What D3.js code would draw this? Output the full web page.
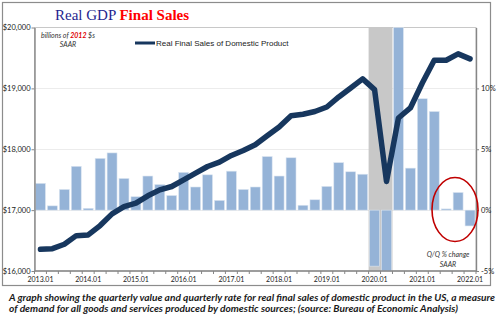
<!DOCTYPE html>
<html>
<head>
<meta charset="utf-8">
<script src="https://cdn.jsdelivr.net/npm/d3@7"></script>
<style>
  body { margin: 0; background: #fff; }
  svg { display: block; }
  text { font-family: Lato, "Liberation Sans", sans-serif; }
</style>
</head>
<body>
<svg id="chart" width="500" height="326"></svg>
<script>
// quarterly categories, 2013 Q1 .. 2022 Q1
const quarters = [
  '2013.01', '2013.02', '2013.03', '2013.04',
  '2014.01', '2014.02', '2014.03', '2014.04',
  '2015.01', '2015.02', '2015.03', '2015.04',
  '2016.01', '2016.02', '2016.03', '2016.04',
  '2017.01', '2017.02', '2017.03', '2017.04',
  '2018.01', '2018.02', '2018.03', '2018.04',
  '2019.01', '2019.02', '2019.03', '2019.04',
  '2020.01', '2020.02', '2020.03', '2020.04',
  '2021.01', '2021.02', '2021.03', '2021.04',
  '2022.01',
];
// real final sales of domestic product, billions of 2012 $, SAAR
const salesLevel = [
  16357, 16367, 16440, 16581,
  16593, 16746, 16938, 17058,
  17114, 17235, 17333, 17388,
  17498, 17608, 17717, 17789,
  17898, 17980, 18074, 18222,
  18365, 18551, 18575, 18620,
  18694, 18859, 19007, 19156,
  18979, 17470, 18513, 18678,
  19089, 19462, 19462, 19567,
  19485,
];
// Q/Q % change, SAAR
const qoqRate = [
  2.2, 0.35, 1.7, 3.6,
  0.15, 4.25, 4.7, 2.6,
  1.1, 2.8, 2.1, 1.2,
  3.1, 1.9, 2.9, 0.8,
  3.2, 1.7, 1.9, 4.4,
  2.8, 4.3, 0.4, 0.85,
  1.95, 3.9, 3.15, 2.95,
  -4.6, -29.5, 32.0, 3.45,
  9.15, 8.1, 0.1, 1.45,
  -1.3,
];
const recession = ['2020.01', '2020.02'];
const xTickLabels = ['2013.01', '2014.01', '2015.01', '2016.01', '2017.01',
  '2018.01', '2019.01', '2020.01', '2021.01', '2022.01'];
const levelTicks = [16000, 17000, 18000, 19000, 20000];
const rateTicks = [-5, 0, 5, 10];

const svg = d3.select('#chart');
const cs = {
  left: 34.5, right: 476, top: 27.5, bottom: 271,
  barFill: '#95b3d7',
  lineStroke: '#17375e',
  axis: '#868686',
};

const x = d3.scaleBand().domain(quarters).range([cs.left, cs.right]).padding(0);
const yL = d3.scaleLinear().domain([16000, 20000]).range([cs.bottom, cs.top]);
const yR = d3.scaleLinear().domain([-5, 15]).range([cs.bottom, cs.top]).clamp(true);

// outer chart frame
svg.append('rect')
  .attr('x', 2.5).attr('y', 2.5).attr('width', 488).attr('height', 283)
  .attr('fill', '#fff').attr('stroke', '#8c8c8c').attr('stroke-width', 1.2);

// title
const title = svg.append('text')
  .attr('x', 55).attr('y', 20)
  .style('font-family', '"Liberation Serif", "DejaVu Serif", serif')
  .style('font-size', '15px');
title.append('tspan').attr('fill', '#1f1f8f').text('Real GDP ');
title.append('tspan').attr('fill', '#ff0000').attr('font-weight', 'bold').text('Final Sales');

// plot frame + gridlines
svg.append('rect')
  .attr('x', cs.left).attr('y', cs.top)
  .attr('width', cs.right - cs.left).attr('height', cs.bottom - cs.top)
  .attr('fill', 'none').attr('stroke', '#c8c8c8').attr('stroke-width', 1);
svg.append('g').selectAll('line')
  .data(levelTicks.slice(1, -1))
  .join('line')
  .attr('x1', cs.left).attr('x2', cs.right)
  .attr('y1', d => Math.round(yL(d)) + 0.5).attr('y2', d => Math.round(yL(d)) + 0.5)
  .attr('stroke', '#ececec');

// recession shading
svg.append('rect')
  .attr('x', x(recession[0]))
  .attr('y', cs.top)
  .attr('width', x.bandwidth() * recession.length)
  .attr('height', cs.bottom - cs.top)
  .attr('fill', '#c8c8c8');

// Q/Q bars
svg.append('g').selectAll('rect')
  .data(qoqRate)
  .join('rect')
  .attr('x', (d, i) => x(quarters[i]) + 1)
  .attr('width', x.bandwidth() - 2)
  .attr('y', d => Math.min(yR(d), yR(0)))
  .attr('height', d => Math.max(Math.abs(yR(d) - yR(0)), 0.8))
  .attr('fill', cs.barFill)
  .attr('stroke', '#dbe5f1')
  .attr('stroke-width', 0.6);

// sales level line
const line = d3.line()
  .x((d, i) => x(quarters[i]) + x.bandwidth() / 2)
  .y(d => yL(d));
svg.append('path')
  .datum(salesLevel)
  .attr('d', line)
  .attr('fill', 'none')
  .attr('stroke', cs.lineStroke)
  .attr('stroke-width', 5.5)
  .attr('stroke-linejoin', 'round')
  .attr('stroke-linecap', 'round');

// axes
const styleAxis = (g) => {
  g.select('.domain').attr('stroke', cs.axis).attr('stroke-width', 1.4);
  g.selectAll('.tick line').attr('stroke', cs.axis);
  g.selectAll('.tick text').attr('fill', '#222').style('font-size', '7.5px');
};
svg.append('g')
  .attr('transform', `translate(${cs.left},0)`)
  .call(d3.axisLeft(yL).tickValues(levelTicks).tickSize(3).tickSizeOuter(0)
    .tickFormat(d => `$${d3.format(',')(d)}`))
  .call(styleAxis)
  .call(g => g.selectAll('.tick text').attr('x', -4));
svg.append('g')
  .attr('transform', `translate(${cs.right},0)`)
  .call(d3.axisRight(yR).tickValues(rateTicks).tickSize(3).tickSizeOuter(0)
    .tickFormat(d => `${d}%`))
  .call(styleAxis)
  .call(g => g.selectAll('.tick text').attr('x', 5));

// category axis: ticks between quarters, labels under each Q1
const xAxis = svg.append('g');
xAxis.append('line')
  .attr('x1', cs.left).attr('x2', cs.right)
  .attr('y1', cs.bottom).attr('y2', cs.bottom)
  .attr('stroke', cs.axis).attr('stroke-width', 1.4);
xAxis.selectAll('line.tk')
  .data(quarters.concat(['end']))
  .join('line')
  .attr('class', 'tk')
  .attr('x1', d => (d === 'end' ? cs.right : x(d)))
  .attr('x2', d => (d === 'end' ? cs.right : x(d)))
  .attr('y1', cs.bottom).attr('y2', cs.bottom + 3)
  .attr('stroke', cs.axis);
xAxis.selectAll('text')
  .data(xTickLabels)
  .join('text')
  .attr('x', d => x(d) + x.bandwidth() / 2)
  .attr('y', cs.bottom + 11)
  .attr('text-anchor', 'middle')
  .attr('fill', '#222')
  .style('font-size', '7px')
  .text(d => d);

// units note
const note = svg.append('g').style('font-style', 'italic').style('font-size', '7px').attr('fill', '#333');
const n1 = note.append('text').attr('x', 68).attr('y', 38).attr('text-anchor', 'middle');
n1.append('tspan').text('billions of ');
n1.append('tspan').attr('fill', '#e00000').attr('font-weight', 'bold').text('2012');
n1.append('tspan').text(' $s');
note.append('text').attr('x', 68).attr('y', 47).attr('text-anchor', 'middle').text('SAAR');

// legend
svg.append('line')
  .attr('x1', 135).attr('x2', 155).attr('y1', 43).attr('y2', 43)
  .attr('stroke', cs.lineStroke).attr('stroke-width', 3);
svg.append('text')
  .attr('x', 156).attr('y', 46)
  .attr('fill', '#222')
  .style('font-size', '8px')
  .style('font-family', '"Liberation Sans", Arial, sans-serif')
  .text('Real Final Sales of Domestic Product');

// highlight on the latest quarters
svg.append('ellipse')
  .attr('cx', 455).attr('cy', 209.5).attr('rx', 23).attr('ry', 32)
  .attr('fill', 'none').attr('stroke', '#c00000').attr('stroke-width', 1.6);
note.append('text').attr('x', 448).attr('y', 257).attr('text-anchor', 'middle').text('Q/Q % change');
note.append('text').attr('x', 448).attr('y', 267).attr('text-anchor', 'middle').text('SAAR');

// caption
const caption = svg.append('g')
  .style('font-style', 'italic').style('font-weight', 'bold')
  .style('font-size', '10px').attr('fill', '#1a1a1a');
caption.append('text').attr('x', 9).attr('y', 301)
  .attr('textLength', 486).attr('lengthAdjust', 'spacingAndGlyphs')
  .text('A graph showing the quarterly value and quarterly rate for real final sales of domestic product in the US, a measure');
caption.append('text').attr('x', 9).attr('y', 312)
  .attr('textLength', 449).attr('lengthAdjust', 'spacingAndGlyphs')
  .text('of demand for all goods and services produced by domestic sources; (source: Bureau of Economic Analysis)');
</script>
</body>
</html>
